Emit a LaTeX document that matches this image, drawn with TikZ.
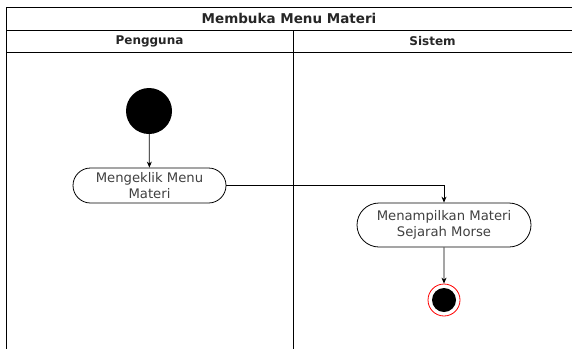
\documentclass[tikz,border=0pt]{standalone}
\usepackage{fontspec}
\setmainfont{DejaVu Sans}
\usetikzlibrary{arrows.meta,shapes.misc}
\definecolor{txt}{HTML}{404040}
\tikzset{
  lane/.style={line width=1pt,draw=black},
  act/.style={draw=black,line width=0.8pt,rounded rectangle,minimum width=155pt,minimum height=35pt,align=center,font=\fontsize{13.2}{16.5}\selectfont,text=txt,inner sep=1pt},
  flow/.style={-{Stealth[length=6pt,width=5pt]},line width=0.8pt},
  hdr/.style={font=\fontsize{12}{14}\selectfont\bfseries,text=black!85},
}
\begin{document}
\begin{tikzpicture}[x=1pt,y=-1pt]
\useasboundingbox (0,0) rectangle (572,349);
% frame
\draw[lane] (572,7) -- (6,7) -- (6,349);
\draw[lane] (6,30) -- (572,30);
\draw[lane] (6,52) -- (572,52);
\draw[lane] (293,30) -- (293,349);
\node[hdr,font=\fontsize{13.5}{15}\selectfont\bfseries] (title) at (289,18.5) {Membuka Menu Materi};
\node[hdr] (p) at (149.5,41) {Pengguna};
\node[hdr] (s) at (432.5,41) {Sistem};
% nodes
\node[circle,fill=black,minimum size=46pt,inner sep=0] (start) at (149,111) {};
\node[act] (a1) at (149.5,185.5) {Mengeklik Menu\\Materi};
\node[act,minimum width=176pt,minimum height=44pt] (a2) at (444,225) {Menampilkan Materi\\Sejarah Morse};
\node[circle,draw=red,fill=white,minimum size=32pt,inner sep=0,line width=0.8pt] (end) at (444,300) {};
\node[circle,fill=black,minimum size=24pt,inner sep=0] (endin) at (end) {};
% flows
\draw[flow] (start) -- (a1);
\draw[flow] (a1.east) -| (a2.north);
\draw[flow] (a2) -- (end);
\end{tikzpicture}
\end{document}
